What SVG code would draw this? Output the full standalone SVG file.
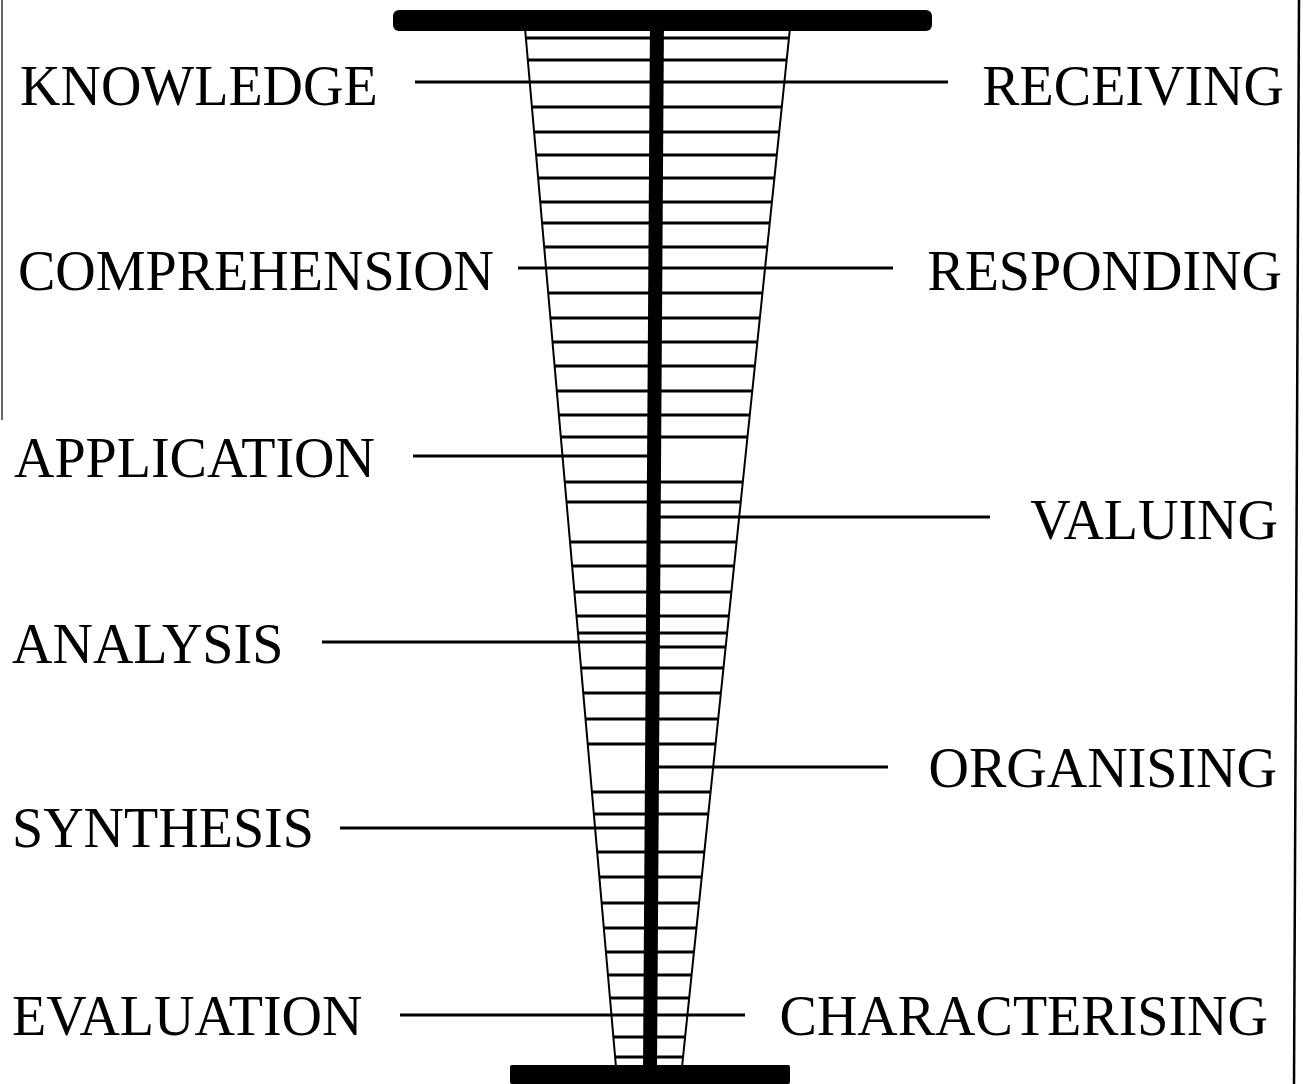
<svg xmlns="http://www.w3.org/2000/svg" width="1303" height="1084" viewBox="0 0 1303 1084">
<style>
.lbl{font-family:"Liberation Serif","Times New Roman",serif;font-size:56px;fill:#000}
.rung{stroke:#000;stroke-width:3}
.side{stroke:#000;stroke-width:2;fill:none}
.conn{stroke:#000;stroke-width:3}
</style>
<defs>
<clipPath id="funnel"><polygon points="525,28 790,28 682,1067 616,1067"/></clipPath>
</defs>
<rect width="1303" height="1084" fill="#fff"/>
<g id="border">
<line x1="2" y1="0" x2="2" y2="420" stroke="#666" stroke-width="2"/>
<line x1="1299" y1="0" x2="1294" y2="1084" stroke="#000" stroke-width="2.5"/>
</g>
<g id="funnel-rungs" clip-path="url(#funnel)">
<path class="rung" d="M500 38H800M500 60H800M500 107H800M500 132H800M500 155H800M500 178H800M500 202H800M500 223H800M500 247H800M500 293H800M500 318H800M500 342H800M500 366H800M500 391H800M500 415H800M500 437H800M500 482H800M500 502H800M500 542H800M500 566H800M500 592H800M500 616H800M500 633H800M653 647H800M500 668H800M500 693H800M500 719H800M500 744H800M500 792H800M500 814H800M500 852H800M500 877H800M500 903H800M500 928H800M500 952H800M500 975H800M500 998H800M500 1037H800M500 1057H800"/>
</g>
<g id="funnel-sides">
<line class="side" x1="525" y1="28" x2="616" y2="1067"/>
<line class="side" x1="790" y1="28" x2="682" y2="1067"/>
</g>
<g id="connectors">
<line class="conn" x1="415" y1="82" x2="655" y2="82"/>
<line class="conn" x1="655" y1="82" x2="948" y2="82"/>
<line class="conn" x1="518" y1="268" x2="655" y2="268"/>
<line class="conn" x1="655" y1="268" x2="893" y2="268"/>
<line class="conn" x1="413" y1="456" x2="655" y2="456"/>
<line class="conn" x1="655" y1="517" x2="990" y2="517"/>
<line class="conn" x1="322" y1="642" x2="653" y2="642"/>
<line class="conn" x1="653" y1="767" x2="888" y2="767"/>
<line class="conn" x1="340" y1="828" x2="652" y2="828"/>
<line class="conn" x1="400" y1="1015" x2="651" y2="1015"/>
<line class="conn" x1="651" y1="1015" x2="745" y2="1015"/>
</g>
<g id="stem">
<line x1="657" y1="20" x2="650" y2="1070" stroke="#000" stroke-width="14"/>
<rect x="393" y="10" width="539" height="21" rx="6" fill="#000"/>
<rect x="510" y="1065" width="280" height="19" rx="2" fill="#000"/>
</g>
<g id="knowledge"><text class="lbl" x="20" y="105">KNOWLEDGE</text></g>
<g id="comprehension"><text class="lbl" x="18" y="290">COMPREHENSION</text></g>
<g id="application"><text class="lbl" x="14" y="477">APPLICATION</text></g>
<g id="analysis"><text class="lbl" x="12" y="663">ANALYSIS</text></g>
<g id="synthesis"><text class="lbl" x="12" y="847">SYNTHESIS</text></g>
<g id="evaluation"><text class="lbl" x="12" y="1035">EVALUATION</text></g>
<g id="receiving"><text class="lbl" x="1284" y="105" text-anchor="end">RECEIVING</text></g>
<g id="responding"><text class="lbl" x="1282" y="290" text-anchor="end">RESPONDING</text></g>
<g id="valuing"><text class="lbl" x="1278" y="539" text-anchor="end">VALUING</text></g>
<g id="organising"><text class="lbl" x="1277" y="787" text-anchor="end">ORGANISING</text></g>
<g id="characterising"><text class="lbl" x="1268" y="1035" text-anchor="end">CHARACTERISING</text></g>
</svg>
